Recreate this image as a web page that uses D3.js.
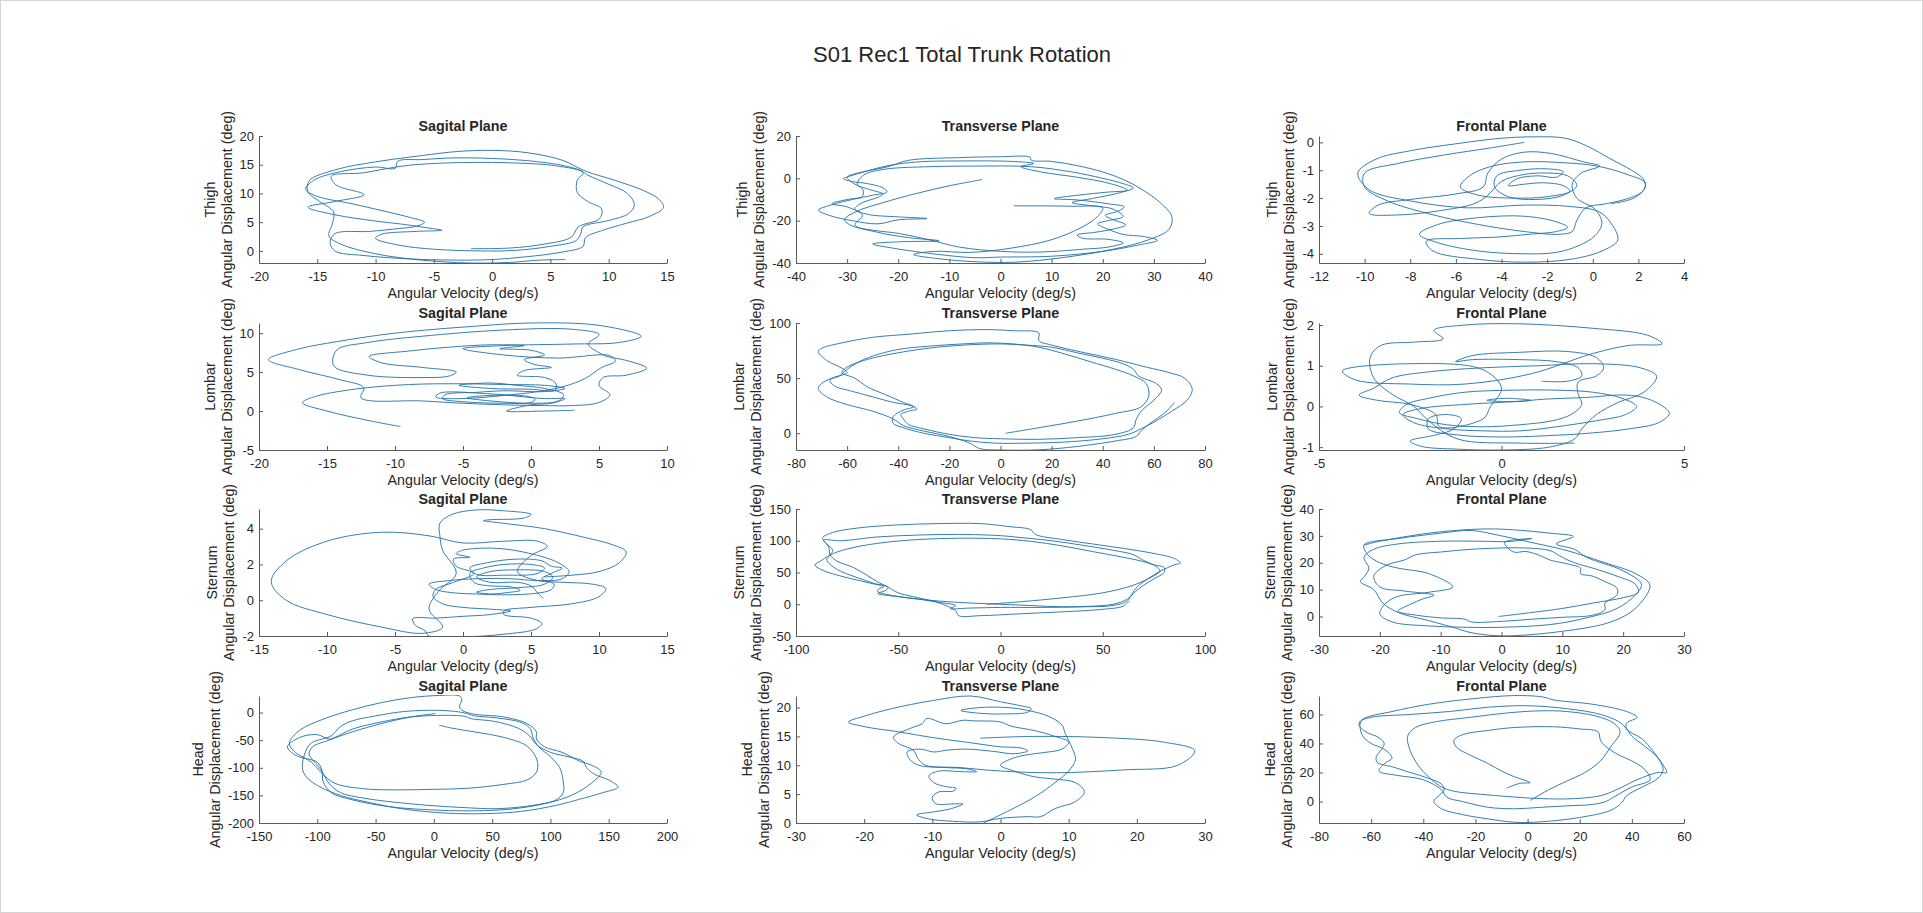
<!DOCTYPE html>
<html>
<head>
<meta charset="utf-8">
<script src="https://cdn.jsdelivr.net/npm/d3@7"></script>
<style>
  body { margin: 0; background: #fff; }
  svg text { font-family: "Liberation Sans", Arial, Helvetica, sans-serif; fill: #262626; }
</style>
</head>
<body>
<svg id="chart" width="1923" height="913"></svg>
<script>
// phase plots: angular velocity (x) vs angular displacement (y)
const thighSagital = [[-1.8,0.4],[1.5,0.5],[4.5,1.2],[6.8,2.4],[7.4,4.2],[9.2,5.6],[9.4,7.3],[8.2,8.6],[7.3,10.2],[7.3,12.3],[7.8,13.6],[5.5,14.8],[2,15.3],[-2,15.4],[-6,15.1],[-8.3,14.6],[-11,13.6],[-13.8,13],[-13.4,11.5],[-11,9.8],[-13.5,8.6],[-15.8,7.6],[-13.5,6.3],[-10,5.2],[-7.5,4.6],[-5.5,4],[-4.3,3.6],[-6.5,3.4],[-9.5,2.9],[-10,2.2],[-8,1],[-5,0.3],[-1,0],[2,0.1],[5,0.8],[7.2,1.8],[7.6,3],[7.8,4.2],[10,5.3],[11.7,6.5],[12.2,8],[11.6,10],[10,11.6],[8.2,13.2],[7.6,14],[6,14.9],[4,15.5],[1,16],[-3,16.2],[-6,15.9],[-8.1,15.6],[-8.3,14.4],[-10,14.6],[-13,13.8],[-15.3,12.3],[-16,10.7],[-15,9.5],[-12,8.2],[-9,6.8],[-7,5.8],[-5.8,5],[-6.5,4.3],[-8,3.9],[-10.5,3.4],[-13.5,3],[-13.9,1.5],[-13.5,0],[-11,-0.8],[-7,-1.4],[-3,-1.6],[0,-1.5],[3,-1],[6,-0.2],[7.8,0.8],[8,2.3],[9.5,3.6],[11.5,4.8],[13.5,6],[14.7,7.6],[14.3,9],[13,10.5],[10.5,12.3],[8,13.9],[6,15.8],[3,17.1],[0,17.5],[-3,17.3],[-6,16.6],[-10,15.5],[-13.3,14.2],[-15.7,12.2],[-15.8,10.3],[-14.8,8.6],[-13.6,6.8],[-13.7,4.8],[-14,2.6],[-13,1.2],[-10,-0.5],[-6,-1.6],[-2,-2.1],[1.5,-2],[4,-1.6],[6.3,-1.5]];

const thighTransverse = [[-3.6,-0.6],[-10,-3.5],[-17,-7.5],[-23,-11.5],[-28,-15.5],[-30.5,-19.5],[-29,-22.5],[-25,-24.5],[-20,-26],[-14,-29],[-8,-32.5],[0,-34.5],[8,-34.8],[16,-33.5],[21,-32.5],[24,-30.5],[21,-28.8],[16,-28.3],[15,-26.8],[18.5,-25.5],[22,-24],[24.5,-22],[22,-19.5],[20.5,-17.5],[23,-15.5],[24.2,-13.5],[21,-12],[15,-10.2],[10.5,-9.6],[15,-8],[21,-6.5],[24.8,-5.6],[21.5,-2.5],[15,0.5],[8,3],[4,5.5],[6.5,7],[2,8],[-8,8.2],[-16,7.8],[-22,6],[-26,3.5],[-29.5,1],[-30.7,-0.2],[-29,-1.5],[-26,-2.5],[-23,-4.5],[-22.2,-6.4],[-25,-8],[-29,-10],[-33,-12.5],[-35.6,-15],[-33.5,-17.5],[-29,-20],[-24,-21.5],[-20,-19.6],[-14.4,-19],[-20,-18.2],[-26,-17],[-28.5,-14.5],[-27,-11.5],[-24,-9],[-23,-7.5],[-26,-5],[-28,-3],[-27.5,0],[-26,2.5],[-22,4.5],[-14,5.5],[-4,5.8],[6,5.5],[14,3],[20,0],[24,-2.5],[26,-4.5],[23,-7],[18,-9.5],[14,-11.5],[18,-13],[22,-14.5],[24,-18],[21,-20],[19,-21.5],[21,-24],[24,-26.5],[28,-27.5],[30.7,-29.3],[27,-31.5],[20,-34.5],[10,-36.8],[0,-37.2],[-5,-37.5],[-12,-36],[-21,-33],[-25,-31],[-20,-30],[-12,-29.5],[-18,-28],[-24,-25.5],[-28.5,-22],[-27,-17.5],[-30,-13.5],[-33,-12],[-30,-10],[-27,-8.5],[-27,-5],[-29,-2],[-30,0.5],[-27,3],[-22,5.5],[-18,8.5],[-8,9.8],[0,10.2],[5.8,10],[6,8.6],[10,8],[15,6],[20,3],[24,-0.5],[27.5,-5],[31,-11],[33.5,-18],[33,-24],[29,-29],[22,-33.5],[12,-37.5],[3,-39.6],[-5,-39.4],[-12,-38],[-17,-36],[-13,-34.5],[-6,-35],[2,-33],[10,-29],[16,-23],[19,-18],[20,-14],[14,-13.2],[7,-13],[2.6,-13]];

const thighFrontal = [[-3,0],[-4.5,-0.2],[-6.5,-0.45],[-8.5,-0.75],[-10,-1.1],[-10,-1.6],[-9,-2.1],[-7,-2.6],[-5,-2.95],[-3,-3.2],[-1.5,-3.3],[-0.9,-3.2],[-0.7,-2.8],[-0.3,-2.35],[0.6,-2.2],[1.6,-2],[2.2,-1.75],[2.3,-1.45],[1.5,-1.15],[0.2,-0.85],[-1.5,-0.72],[-3,-0.7],[-4.4,-0.85],[-5.4,-1.2],[-5.8,-1.6],[-5,-1.9],[-3.5,-2],[-2,-1.95],[-1,-1.75],[-1.3,-1.55],[-2.2,-1.45],[-3,-1.5],[-3.7,-1.55],[-3.3,-1.3],[-2.4,-1.2],[-1.6,-1.25],[-1.3,-1.05],[-2,-0.95],[-3.2,-1],[-4.2,-1.2],[-4.3,-1.6],[-3.7,-1.95],[-2.5,-2.05],[-1.3,-1.9],[-0.7,-1.55],[-1.1,-1.2],[-2,-1.1],[-3,-1.15],[-4,-1.4],[-4.6,-1.9],[-5.2,-2.2],[-6.7,-2.45],[-8.4,-2.6],[-9.8,-2.55],[-9.4,-2.25],[-8,-2.05],[-6,-1.85],[-4.8,-1.6],[-4.6,-1.1],[-4,-0.6],[-3,-0.35],[-1.8,-0.4],[-0.4,-0.7],[0.3,-0.85],[-0.5,-1.1],[-0.9,-1.5],[-0.7,-2],[0.1,-2.4],[0.4,-2.9],[0.1,-3.35],[-0.6,-3.7],[-1.6,-3.95],[-3,-4],[-5,-3.9],[-6.8,-3.6],[-7.6,-3.3],[-6.8,-2.95],[-5,-2.7],[-3,-2.65],[-1.6,-2.85],[-1.1,-3.05],[-1.6,-3.2],[-2.8,-3.3],[-4.2,-3.4],[-5.8,-3.45],[-7.3,-3.55],[-7,-3.9],[-5,-4.2],[-3,-4.3],[-1,-4.2],[0.4,-3.9],[1.1,-3.5],[0.8,-2.9],[0.3,-2.5],[-1,-2.3],[-3,-2.25],[-5.5,-2.35],[-8,-2.1],[-9.8,-1.7],[-10.3,-1.1],[-9.5,-0.6],[-8,-0.3],[-6,-0.05],[-4,0.15],[-2.5,0.2],[-1.2,0.15],[-0.2,-0.15],[0.8,-0.6],[1.7,-1],[2.2,-1.3],[2.3,-1.6],[1.8,-2],[0.8,-2.2]];

const lombarSagital = [[-9.6,-2],[-12,-1.2],[-15,0],[-16.8,1.06],[-16,1.8],[-13,2.8],[-9,3.4],[-5,3.5],[-2,3.4],[1,3.3],[2.5,2.9],[1,2.5],[-2,2.6],[-4,2.4],[-6.3,2.1],[-6.5,1.6],[-5,1.2],[-2,1],[0,1.1],[0.3,1.5],[-0.3,1.9],[-3,2],[-4.7,1.7],[-3,1.3],[0,1],[2,1.3],[2.4,2.1],[1,2.9],[-1,3.3],[-3,3.6],[-5.3,3.3],[-3,2.9],[0,2.8],[1.8,2.7],[1.8,3.6],[1,4.3],[-1,4.6],[-0.5,5.2],[1.5,5.6],[0.2,6],[-0.5,6.6],[1,7.2],[0,7.8],[-2.3,8],[-0.5,8.4],[-3,8.5],[-6,8.2],[-9,7.7],[-11.9,7],[-11,6.2],[-8,5.6],[-5.5,5],[-6,4.5],[-8,4.3],[-12,4.6],[-14.5,5.8],[-14.3,7.8],[-12,8.8],[-8,9.6],[-2,10.4],[3,10.5],[5,9.8],[4.2,8.6],[5,7.5],[5.6,7],[7,6.5],[8.5,5.5],[7,4.6],[5.3,4.3],[5,3.3],[5.8,2.1],[5,1.1],[3,0.7],[1,0.7],[-2,0.8],[-5,1],[-8,1.3],[-12.5,1.7],[-12.3,3],[-14,4],[-17,5.3],[-19.3,6.6],[-17,8],[-14.3,8.9],[-10,10],[-4,10.9],[0,11.3],[5,11],[8.1,9.6],[6.5,8.8],[3,8.6],[-2,8.4],[-5,8],[-2,7.2],[2,6.8],[5.8,7.1],[6.2,6.4],[5.2,5.6],[4,4.2],[2.5,3.2],[0.5,2.5],[-2,2],[-5,1.6],[-7,1.8],[-6.7,2.3],[-3,2.2],[1,1.6],[2.5,1.6],[1.5,1],[0,0.8],[-1.8,0],[1,0],[3.2,0.1]];

const lombarTransverse = [[2,0],[15,5],[30,11],[45,18],[55,24],[58,34],[57,45],[52,52],[45,58],[35,65],[25,72],[15,78],[5,81],[-5,82],[-15,81],[-28,79],[-40,76],[-50,70],[-56,64],[-60,58],[-63,52],[-66.7,48],[-65,43],[-58,38],[-50,33],[-42,28],[-35,25],[-32.7,22],[-36,20],[-39,17],[-38,13],[-36,8],[-30,4],[-20,-1],[-10,-4],[0,-5],[15,-5.5],[30,-4],[45,-1],[52,5],[53,12],[55,20],[60,30],[63,39],[61,45],[54,52],[52,58],[48,63],[40,68],[30,73],[20,78],[10,80],[0,81],[-10,80.5],[-25,78],[-40,73],[-52,67],[-60,60],[-62,55],[-57,50],[-52,42],[-45,35],[-38,28],[-34,24],[-38,21],[-42,15],[-42,9],[-38,5],[-30,0],[-20,-4],[-12,-7],[-2,-9],[10,-9],[25,-8],[40,-5],[50,-1],[55,4],[60,10],[67,20],[73,30],[75,40],[72,50],[66,55],[57,60],[45,67],[33,73],[20,80],[15,84],[15,91],[5,93],[-5,94],[-20,93],[-35,90],[-50,87],[-62,82],[-70,77],[-71.3,74],[-68,66],[-62,59],[-60,55],[-66,50],[-70,45],[-71.3,40.5],[-68,33],[-60,26],[-50,20],[-42,13],[-38,7],[-30,2],[-20,-3],[-12,-9],[-8,-14],[0,-15.2],[15,-15],[30,-12],[45,-7],[53,-3],[55,2],[58,8],[65,20],[68,28]];

const lombarFrontal = [[1.1,0.62],[1.8,0.62],[2.2,0.75],[2.1,0.95],[1.5,1.1],[0.5,1.15],[-0.8,1.15],[-1.26,1.1],[-0.8,1.25],[0.5,1.33],[1.8,1.35],[2.6,1.2],[2.8,0.95],[2.6,0.75],[2.1,0.6],[2.1,0.3],[2.2,0.05],[1.9,-0.2],[1.4,-0.35],[0.5,-0.45],[-0.5,-0.5],[-1.5,-0.45],[-2.3,-0.3],[-2.8,-0.15],[-2.6,0.05],[-2,0.2],[-1,0.35],[0.3,0.4],[1.5,0.4],[2.5,0.35],[3.3,0.2],[3.7,0],[3.4,-0.2],[2.6,-0.35],[1.5,-0.5],[0.5,-0.6],[-0.5,-0.6],[-1.5,-0.55],[-2.4,-0.4],[-2.7,-0.2],[-2.2,-0.05],[-1,0.05],[0,0.1],[0.8,0.15],[0.1,0.2],[-0.4,0.15],[0.3,0.12],[1.2,0.18],[2.3,0.22],[3.4,0.28],[4,0.19],[4.5,-0.05],[4.6,-0.18],[4.3,-0.4],[3.5,-0.55],[2.5,-0.65],[1.2,-0.72],[0,-0.75],[-1.2,-0.7],[-2,-0.55],[-2,-0.3],[-1.5,-0.2],[-1.1,-0.3],[-1.3,-0.55],[-1.8,-0.7],[-2.5,-0.85],[-2.2,-0.98],[-1.2,-1.05],[0,-1.07],[1.3,-1],[2,-0.8],[2.2,-0.55],[2.6,-0.2],[3.2,0.1],[3.9,0.35],[4.25,0.74],[3.8,0.95],[2.5,1.05],[1,1],[-0.5,0.95],[-2,0.85],[-3,0.7],[-3.5,0.45],[-3.9,0.28],[-3.4,0.15],[-2.5,0.05],[-1.8,-0.2],[-1.7,-0.5],[-0.5,-0.3],[-0.3,0],[0,0.45],[-0.5,0.9],[-2.5,1.05],[-4.36,0.87],[-4,0.65],[-2.5,0.55],[-1,0.55],[0.8,0.8],[2.5,1.3],[3.5,1.5],[4.4,1.54],[4,1.75],[2.5,1.92],[0.5,2.03],[-1,2],[-1.85,1.87],[-1.6,1.66],[-2.4,1.58],[-3.3,1.5],[-3.6,1.2],[-3.5,0.7],[-3,0.3],[-2.4,0],[-2,-0.35],[-1.2,-0.8],[0.5,-0.9],[2,-0.9]];

const sternumSagital = [[5.9,0.1],[5.5,0.4],[5,0.8],[4,1],[2,1],[1,1.3],[2,1.6],[4,1.7],[6,1.6],[6.6,1.3],[6,0.9],[4,0.7],[2,0.6],[1,0.45],[2,0.35],[3.5,0.45],[4.2,0.55],[3.5,0.75],[2,0.8],[0.8,1],[0.5,1.5],[1.5,1.8],[3,2],[5,2],[6,1.8],[5.5,1.5],[3,1.4],[1,1.45],[0.5,1.8],[1.8,2.1],[4,2.3],[5.8,2.2],[6.5,1.9],[7.3,1.8],[6.5,1.5],[5.8,1.2],[6.7,0.9],[6.5,0.6],[5.5,0.4],[3,0.3],[1,0.35],[-0.5,0.4],[-2,0.6],[-2.5,0.9],[-1,1.1],[1,1.2],[3.5,1.2],[5.5,1.1],[7.3,1.2],[7.8,1.6],[7,2.1],[5,2.6],[2.5,2.9],[0,2.8],[-0.5,2.6],[0.5,2.4],[-0.7,2.3],[-0.5,1.9],[0.8,1.5],[-0.7,1],[-2,0.6],[-2.2,0.2],[-1.5,-0.2],[0,-0.4],[2,-0.5],[3.5,-0.6],[2,-0.8],[0,-0.9],[-2,-1],[-3.7,-1.03],[-3.5,-1.4],[-2.8,-1.7],[-2.5,-2],[0,-2.05],[3,-1.9],[5.4,-1.6],[5.8,-1.3],[5,-1],[3,-0.8],[3,-0.6],[5,-0.4],[8,-0.2],[10,0.2],[10.5,0.66],[9.5,0.9],[7.5,1],[5.5,1.1],[4,1.6],[5,2.5],[6.2,3],[5.5,3.3],[3,3.3],[0,3.2],[-2.5,3.6],[-6,3.8],[-10,3.3],[-13,2.2],[-14.1,1.03],[-13,0],[-10,-0.8],[-6,-1.5],[-3,-1.85],[-1.5,-1.5],[-2.5,-0.5],[-1.8,0.5],[-0.5,1.5],[-1.5,2.8],[-1.7,3.6],[-1.7,4.3],[-0.8,4.8],[1,5.05],[3,5],[5,4.8],[4.5,4.6],[2,4.5],[1.5,4.45],[3,4.3],[6,4],[9,3.5],[11,3.1],[12,2.7],[11.5,2.1],[10,1.6],[8,1.4],[6,1.3]];

const sternumTransverse = [[-6.5,0],[10,4],[30,10],[50,18],[65,30],[75,45],[78,52],[76,60],[70,67],[60,74],[45,83],[30,92],[15,99],[0,103],[-20,104],[-40,102],[-60,96],[-75,87],[-83.3,77.7],[-88,68],[-90.7,62],[-88,55],[-80,46],[-70,38],[-62,32],[-57,28],[-59.6,24],[-60,20],[-55,15],[-45,10],[-30,5],[-15,2],[0,0],[15,-2],[30,-4],[45,-3],[55,0],[62,8],[66,20],[70,30],[75,40],[80,50],[80,58],[75,62],[69.4,70],[65,78],[55,85],[40,93],[25,100],[10,105],[0,108],[-20,110],[-40,109],[-60,106],[-78,100],[-86.6,101],[-85,95],[-82,85],[-83.3,77.7],[-85,70],[-80,55],[-70,42],[-62,33],[-55,27],[-56,22],[-60,17],[-50,12],[-40,8],[-30,3],[-22,-2],[-24.5,-6.7],[-15,-6],[0,-5],[20,-5],[40,-4],[55,-2],[62,5],[64,15],[67,28],[72,40],[78,52],[85,62],[88,65],[85,72],[75,80],[60,88],[45,95],[30,102],[17,110],[14.7,117.6],[5,122],[-10,127],[-30,127],[-50,125],[-70,120],[-82,113],[-87,105],[-86.6,101],[-84,90],[-83.3,77.7],[-80,68],[-72,58],[-65,45],[-60,35],[-55,27],[-50,18],[-40,10],[-30,2],[-22,-10],[-20.4,-18],[-10,-18],[10,-15],[30,-12],[50,-8],[60,-3],[63,5]];

const sternumFrontal = [[-0.5,0],[5,1.5],[10,3],[15,5],[20,7],[22.5,9],[22,12],[19,15],[15,18],[12,20],[10,22],[8,24.5],[4,25.5],[0,25.5],[-5,25],[-10,24],[-14,23],[-16,21],[-19,19],[-21,15],[-20,11],[-16,9.5],[-11.1,7.9],[-13,6.5],[-15,4.5],[-17,2],[-14,0.5],[-10,-0.5],[-6,-1],[-5,-2],[0,-1.8],[5,-1],[10,-0.3],[15,0.5],[17,2.5],[17,5],[19,8],[19,10.5],[17,13],[15,15],[13,16],[13,18],[11,19.5],[8,21],[6,23],[4,24.2],[2,24],[0.5,27.5],[5,29],[1.2,27.9],[-3,28],[-10,28],[-17,27],[-21,25],[-22.6,22],[-21.8,18],[-22.5,15],[-23.2,13],[-21,10],[-19.5,5],[-17,1.5],[-12,-1.5],[-8,-4],[-5,-6],[0,-7.2],[10,-5.5],[18,-2],[22,3],[24.4,11.6],[22,16],[17,20],[13,23],[10,25],[5,27.5],[0,30],[-5,32],[-10,31],[-17,29],[-22.6,26.6],[-22,23],[-20,20],[-17,18],[-12,16],[-8,11],[-12,9],[-17,7.5],[-19,5],[-20,1],[-18,-2],[-12,-3.5],[-6,-4],[0,-4],[8,-3],[14,-0.5],[19,3],[22,8],[23,12],[20,17],[14,22],[12,25],[9,27],[11.8,29.75],[8,31],[0,32.5],[-5,32.4],[-12,31],[-20,28],[-22.6,26.6]];

const headSagital = [[1.2,-1.8],[-20,-8],[-45,-20],[-70,-35],[-90,-50],[-104,-62],[-107,-75],[-100,-95],[-95,-110],[-90,-128],[-80,-145],[-60,-155],[-35,-162],[-5,-168],[25,-172],[55,-174],[85,-168],[105,-158],[111,-145],[111,-125],[108,-100],[100,-80],[90,-62],[85,-45],[83,-30],[75,-18],[55,-10],[35,-6],[30,-3],[25,0],[5,4],[-25,2],[-50,-6],[-70,-15],[-80,-25],[-88,-42],[-105,-55],[-110,-70],[-112.8,-100],[-110,-115],[-100,-132],[-80,-150],[-55,-163],[-25,-175],[10,-182],[45,-183],[75,-179],[105,-168],[125,-157],[145,-145],[158,-135],[150,-122],[138,-112],[131,-100],[128,-88],[115,-80],[100,-72],[88,-58],[82,-42],[72,-28],[52,-16],[32,-11],[27,-7],[10,-5],[-20,-8],[-45,-17],[-70,-30],[-85,-45],[-90,-48],[-100,-40],[-115,-45],[-125.6,-62],[-118,-78],[-100,-90],[-96,-105],[-95,-125],[-88,-145],[-70,-158],[-40,-170],[-5,-176],[30,-178],[65,-175],[95,-165],[118,-150],[135,-128],[143.6,-108],[135,-95],[125,-88],[110,-72],[95,-62],[88,-48],[88,-35],[80,-20],[60,-8],[35,-3],[25,3],[22,10],[24,24],[22,30],[5,31],[-20,27],[-45,18],[-70,5],[-95,-12],[-115,-32],[-124,-55],[-120,-70],[-105,-90],[-96,-110],[-85,-128],[-60,-138],[-30,-140],[0,-139],[30,-137],[60,-130],[80,-122],[88,-108],[89,-90],[85,-72],[78,-58],[60,-45],[35,-35],[15,-28],[4.7,-23]];

const headTransverse = [[-2.5,0],[1,2],[5,4.5],[8,7],[10,9],[11,11],[10.5,13],[9.5,15.5],[9,17],[7,18.5],[4,19.5],[1,20],[-3,20],[-5.8,19.5],[-3,19],[1,18.9],[4,19.2],[4.5,19.8],[3,20.3],[0,21],[-4.4,22],[-10,21.2],[-16,19.8],[-20,18.5],[-22.3,17.5],[-20,16.7],[-15,15.8],[-10,14.8],[-5,14],[0,13.2],[3,13],[4,12.5],[2,12],[-1,12.4],[-5,12.8],[-8,12.6],[-9.8,12.3],[-11.8,12.8],[-13.7,12.3],[-13.3,11],[-12,10],[-8,9.6],[-5,9.4],[-3.5,8.9],[-6,8.9],[-9,9],[-10.5,8.2],[-9.8,7],[-8,6.3],[-6.5,6],[-7,5.5],[-9,5.4],[-10,4.5],[-9.6,3.4],[-7,3.3],[-5.5,3.3],[-7.5,2.4],[-10,1.9],[-12.3,1.4],[-10.5,0.7],[-7,0.3],[-3,0.2],[0,0.8],[4,1.1],[5.9,1.1],[8,2.5],[11,3.7],[12.3,5.4],[11,7],[8,7.6],[5,8],[2,9],[0,10],[2,11.3],[5,12],[7,12.3],[9,12.8],[10,14],[8,15],[5,16],[1.5,16.8],[0,17.5],[-4,17.7],[-5.5,17.8],[-8,17.2],[-10.8,18.1],[-11.5,17.2],[-13,16.5],[-15.7,14.9],[-15,13.8],[-12.8,12.6],[-12,11],[-11,10],[-6,9.6],[0,9],[8,8.7],[18,9.2],[26,10],[28.5,12.5],[24,14],[15,14.8],[5,15],[-3,14.7]];

const headFrontal = [[1,0.7],[8,8],[15,14],[22,20],[28,28],[32,38],[35.5,48],[33,54],[26,59],[15,62],[5,62.5],[-8,61],[-22,58],[-35,55],[-43,51],[-46,45],[-45,35],[-42,25],[-38,17],[-33,10],[-28,7],[-18,5],[-8,3.5],[5,2],[18,2],[28,4],[34,8],[42,15],[50,20],[53.4,20],[52,25],[48,35],[44,43],[38,50],[38,54],[42,58],[38,62],[25,67],[10,70],[6,72],[-5,73],[-20,71],[-38,67],[-52,62],[-63,57],[-64.7,53],[-62,48],[-57,44],[-55,40],[-56,36],[-58,31],[-57.7,27],[-52,24],[-45,20],[-38,16],[-33,12],[-32,8],[-34,4],[-36,0],[-33,-5],[-25,-9],[-15,-12],[-5,-14.3],[5,-14],[20,-11],[32,-6],[36,-1],[38,4],[44,10],[50,16],[52,22],[50,30],[45,38],[40,45],[38,50],[35,55],[28,60],[15,64],[0,66],[-15,65],[-30,62],[-45,60],[-60,58],[-64,55],[-63.4,45.7],[-60,40],[-55,36],[-52,30],[-55,26],[-57,21],[-50,18],[-40,15],[-33,8],[-31,3],[-25,0],[-15,-4],[-5,-5],[5,-4],[15,-3],[25,-2],[30,0],[33,3],[40,10],[47,15],[45,22],[40,28],[35,32],[30,38],[28,42],[27,48],[20,50],[10,51.5],[-5,51],[-15,49],[-25,46],[-28.3,42],[-27,37],[-22,32],[-15,26],[-10,21],[-5,17],[0,14],[1,13],[-3,12.5],[-8,9.2]];

const segments = ['Thigh', 'Lombar', 'Sternum', 'Head'];
const planes = ['Sagital Plane', 'Transverse Plane', 'Frontal Plane'];
const series = [thighSagital, thighTransverse, thighFrontal,
  lombarSagital, lombarTransverse, lombarFrontal,
  sternumSagital, sternumTransverse, sternumFrontal,
  headSagital, headTransverse, headFrontal];

const xDomains = [[-20, 15], [-40, 40], [-12, 4], [-20, 10], [-80, 80], [-5, 5],
  [-15, 15], [-100, 100], [-30, 30], [-150, 200], [-30, 30], [-80, 60]];
const yDomains = [[-2.1, 20], [-40, 20], [-4.33, 0.23], [-5, 11.3], [-15.2, 100], [-1.07, 2.05],
  [-2, 5.1], [-50, 150], [-7.25, 40], [-200, 30], [0, 22], [-14.8, 72.7]];
const xTickVals = [
  [-20, -15, -10, -5, 0, 5, 10, 15], [-40, -30, -20, -10, 0, 10, 20, 30, 40], [-12, -10, -8, -6, -4, -2, 0, 2, 4],
  [-20, -15, -10, -5, 0, 5, 10], [-80, -60, -40, -20, 0, 20, 40, 60, 80], [-5, 0, 5],
  [-15, -10, -5, 0, 5, 10, 15], [-100, -50, 0, 50, 100], [-30, -20, -10, 0, 10, 20, 30],
  [-150, -100, -50, 0, 50, 100, 150, 200], [-30, -20, -10, 0, 10, 20, 30], [-80, -60, -40, -20, 0, 20, 40, 60]];
const yTickVals = [
  [0, 5, 10, 15, 20], [-40, -20, 0, 20], [-4, -3, -2, -1, 0],
  [-5, 0, 5, 10], [0, 50, 100], [-1, 0, 1, 2],
  [-2, 0, 2, 4], [-50, 0, 50, 100, 150], [0, 10, 20, 30, 40],
  [-200, -150, -100, -50, 0], [0, 5, 10, 15, 20], [0, 20, 40, 60]];

const colLeft = [259, 796, 1319];
const colWidth = [408, 409, 365];
const rowTop = [136, 323, 509, 696];
const rowHeight = 127;

const svg = d3.select('#chart');

svg.append('rect')
  .attr('x', 0.5).attr('y', 0.5)
  .attr('width', 1922).attr('height', 912)
  .attr('fill', '#fff')
  .attr('stroke', '#d4d4d4');

svg.append('text')
  .attr('x', 962).attr('y', 62)
  .attr('text-anchor', 'middle')
  .style('font-size', '22px')
  .text('S01 Rec1 Total Trunk Rotation');

const axisColor = '#5a5a5a';

series.forEach((data, i) => {
  const r = Math.floor(i / 3), c = i % 3;
  const left = colLeft[c], top = rowTop[r];
  const w = colWidth[c], h = rowHeight;

  const x = d3.scaleLinear().domain(xDomains[i]).range([0, w]);
  const y = d3.scaleLinear().domain(yDomains[i]).range([h, 0]);

  const g = svg.append('g').attr('transform', `translate(${left},${top})`);

  g.append('clipPath').attr('id', 'clip' + i)
    .append('rect').attr('x', -1).attr('y', -1).attr('width', w + 2).attr('height', h + 2);

  g.append('path')
    .datum(data)
    .attr('clip-path', `url(#clip${i})`)
    .attr('fill', 'none')
    .attr('stroke', '#1f6fa8')
    .attr('stroke-width', 0.9)
    .attr('stroke-linejoin', 'round')
    .attr('d', d3.line()
      .x(d => x(d[0]))
      .y(d => y(d[1]))
      .curve(d3.curveCatmullRom.alpha(0.5)));

  const xAxis = g.append('g')
    .attr('transform', `translate(0,${h})`)
    .call(d3.axisBottom(x).tickValues(xTickVals[i]).tickFormat(d => String(d))
      .tickSizeInner(-4).tickSizeOuter(0).tickPadding(9));
  const yAxis = g.append('g')
    .call(d3.axisLeft(y).tickValues(yTickVals[i]).tickFormat(d => String(d))
      .tickSizeInner(-4).tickSizeOuter(0).tickPadding(5));

  [xAxis, yAxis].forEach(a => {
    a.select('.domain').attr('stroke', axisColor);
    a.selectAll('.tick line').attr('stroke', axisColor);
    a.selectAll('.tick text')
      .style('font-size', '13px')
      .style('font-family', '"Liberation Sans", Arial, sans-serif')
      .attr('fill', '#262626');
  });

  let maxw = 0;
  yAxis.selectAll('.tick text').each(function() {
    maxw = Math.max(maxw, this.getComputedTextLength());
  });

  g.append('text')
    .attr('x', w / 2).attr('y', -5)
    .attr('text-anchor', 'middle')
    .style('font-size', '14.3px')
    .style('font-weight', 'bold')
    .text(planes[c]);

  g.append('text')
    .attr('x', w / 2).attr('y', 35)
    .attr('transform', `translate(0,${h})`)
    .attr('text-anchor', 'middle')
    .style('font-size', '14.3px')
    .text('Angular Velocity (deg/s)');

  const lx2 = -5 - maxw - 13;
  const lx1 = lx2 - 17;
  [[lx1, segments[r]], [lx2, 'Angular Displacement (deg)']].forEach(([lx, txt]) => {
    g.append('text')
      .attr('transform', `translate(${lx},${h / 2}) rotate(-90)`)
      .attr('text-anchor', 'middle')
      .attr('dy', '0.35em')
      .style('font-size', '14.3px')
      .text(txt);
  });
});
</script>
</body>
</html>
